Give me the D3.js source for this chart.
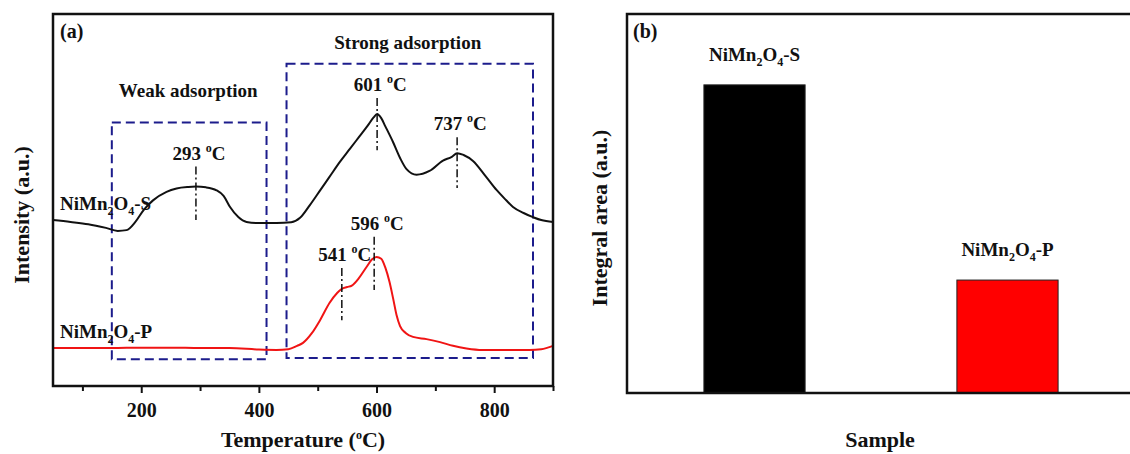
<!DOCTYPE html>
<html>
<head>
<meta charset="utf-8">
<script src="https://cdnjs.cloudflare.com/ajax/libs/d3/7.8.5/d3.min.js"></script>
<style>
	body { margin: 0; background: #fff; }
	text { font-family: "Liberation Serif", "Times New Roman", serif; font-weight: bold; fill: #111; }
</style>
</head>
<body>
<div id="chart"></div>
<script>
// panel (a): TPD curves, temperature (°C) vs intensity (a.u.)
const tempS = [50, 80, 110, 140, 160, 175, 190, 204, 220, 243, 260, 280, 293, 310, 328, 340, 351, 365, 379, 400, 430, 455, 470, 487, 505, 520, 538, 555, 570, 585, 595, 601, 608, 615, 628, 640, 651, 668, 690, 713, 728, 737, 748, 764, 785, 804, 820, 832, 850, 866, 880, 900];
const intS  = [44.6, 44.1, 43.5, 42.5, 41.7, 41.9, 44.1, 47.3, 49.9, 52.2, 53.1, 53.5, 53.6, 53.4, 52.6, 51.1, 48.1, 45.4, 44.1, 43.8, 43.8, 44.0, 45.2, 48.7, 52.8, 56.2, 60.3, 63.8, 66.9, 70.0, 72.2, 73.1, 72.0, 69.8, 65.6, 61.3, 58.3, 56.8, 57.8, 60.6, 61.6, 62.6, 62.1, 60.5, 56.5, 52.7, 50.0, 48.1, 46.5, 45.4, 44.6, 44.1];

const tempP = [50, 100, 150, 200, 250, 300, 350, 400, 430, 450, 465, 475, 490, 504, 520, 533, 541, 550, 558, 570, 583, 592, 600, 608, 615, 622, 628, 634, 640, 650, 662, 685, 708, 730, 753, 780, 820, 860, 880, 900];
const intP  = [10.2, 10.2, 10.2, 10.3, 10.3, 10.2, 10.2, 9.8, 9.7, 9.9, 10.8, 11.6, 14.2, 17.7, 22.3, 25.0, 26.1, 26.6, 27.0, 29.0, 32.0, 34.0, 34.7, 34.2, 31.8, 28.0, 23.7, 19.1, 16.1, 14.2, 13.2, 12.6, 11.8, 10.8, 10.1, 9.7, 9.7, 9.7, 9.9, 10.8];

const majorTicks = [200, 400, 600, 800];
const minorTicks = [100, 300, 500, 700, 900];

// peak markers: temperature, marker top, marker bottom (intensity units)
const peakTemps  = [293, 601, 737, 596, 541];
const peakTop    = [59.0, 77.4, 66.9, 40.1, 31.7];
const peakBottom = [44.6, 63.4, 53.2, 25.8, 17.7];

// dashed boxes [t0, t1, i0, i1]
const boxNames = ["Weak adsorption", "Strong adsorption"];
const boxTemps = [[150, 413], [447, 866]];
const boxInts  = [[7.2, 70.8], [7.5, 86.6]];

// panel (b): integral area
const samples = ["S", "P"];
const areas = [81.3, 29.8];
const barColors = ["#000000", "#ff0000"];

const width = 1130, height = 454;

let svg = d3.select("#chart").append("svg")
	.attr("width", width)
	.attr("height", height);

svg.append("rect").attr("width", width).attr("height", height).attr("fill", "#fff");

//helper for "NiMn2O4-X" with subscripts
function sampleLabel(sel, suffix) {
	sel.append("tspan").text("NiMn");
	sel.append("tspan").attr("dy", 5).style("font-size", "12px").text("2");
	sel.append("tspan").attr("dy", -5).text("O");
	sel.append("tspan").attr("dy", 5).style("font-size", "12px").text("4");
	sel.append("tspan").attr("dy", -5).text("-" + suffix);
}

//helper for "xxx °C"
function degLabel(sel, prefix) {
	sel.append("tspan").text(prefix);
	sel.append("tspan").attr("dy", -8).style("font-size", "12px").text("o");
	sel.append("tspan").attr("dy", 8).text("C");
}

/////////////////////// panel (a) ///////////////////////

let x = d3.scaleLinear().domain([50, 900]).range([53, 553]);
let y = d3.scaleLinear().domain([0, 100]).range([386, 14]);

let ga = svg.append("g").attr("class", "panelA");

//bottom ticks
ga.append("g")
	.attr("transform", "translate(0," + y(0) + ")")
	.call(d3.axisBottom(x).tickValues(majorTicks).tickSize(7).tickPadding(10).tickFormat(d3.format("d")))
	.call(g => g.select(".domain").remove())
	.call(g => g.selectAll("line").attr("stroke", "#111").attr("stroke-width", 2))
	.call(g => g.selectAll("text").style("font-size", "20px").attr("fill", "#111")
		.style("font-family", "'Liberation Serif', serif").style("font-weight", "bold"));

ga.append("g")
	.attr("transform", "translate(0," + y(0) + ")")
	.call(d3.axisBottom(x).tickValues(minorTicks).tickSize(5).tickFormat(""))
	.call(g => g.select(".domain").remove())
	.call(g => g.selectAll("line").attr("stroke", "#111").attr("stroke-width", 2));

//dashed boxes
ga.selectAll(".box")
	.data(boxNames)
	.enter().append("rect")
	.attr("class", "box")
	.attr("x", (d, i) => x(boxTemps[i][0]))
	.attr("y", (d, i) => y(boxInts[i][1]))
	.attr("width", (d, i) => x(boxTemps[i][1]) - x(boxTemps[i][0]))
	.attr("height", (d, i) => y(boxInts[i][0]) - y(boxInts[i][1]))
	.attr("fill", "none")
	.attr("stroke", "#1c1c8c")
	.attr("stroke-width", 2)
	.attr("stroke-dasharray", "9,5");

ga.selectAll(".boxLabel")
	.data(boxNames)
	.enter().append("text")
	.attr("class", "boxLabel")
	.attr("x", (d, i) => (x(boxTemps[i][0]) + x(boxTemps[i][1])) / 2 + (i === 0 ? -1 : -2))
	.attr("y", (d, i) => y(boxInts[i][1]) - 26 + (i === 0 ? 0 : 11))
	.attr("text-anchor", "middle")
	.style("font-size", "19px")
	.text(d => d);

//curves
let line = d3.line()
	.x(d => x(d[0]))
	.y(d => y(d[1]))
	.curve(d3.curveMonotoneX);

ga.append("path")
	.attr("d", line(d3.zip(tempS, intS)))
	.attr("fill", "none")
	.attr("stroke", "#111")
	.attr("stroke-width", 2);

ga.append("path")
	.attr("d", line(d3.zip(tempP, intP)))
	.attr("fill", "none")
	.attr("stroke", "#f01414")
	.attr("stroke-width", 2);

//peak markers
ga.selectAll(".peak")
	.data(peakTemps)
	.enter().append("line")
	.attr("class", "peak")
	.attr("x1", d => x(d)).attr("x2", d => x(d))
	.attr("y1", (d, i) => y(peakTop[i]))
	.attr("y2", (d, i) => y(peakBottom[i]))
	.attr("stroke", "#111")
	.attr("stroke-width", 1.5)
	.attr("stroke-dasharray", "8,3,2,3");

ga.selectAll(".peakLabel")
	.data(peakTemps)
	.enter().append("text")
	.attr("class", "peakLabel")
	.attr("x", d => x(d) + 3)
	.attr("y", (d, i) => y(peakTop[i]) - 7)
	.attr("text-anchor", "middle")
	.style("font-size", "19px")
	.each(function(d) { degLabel(d3.select(this), d + " "); });

//curve labels
ga.append("text").attr("x", 60).attr("y", 210).style("font-size", "19px")
	.call(sampleLabel, "S");
ga.append("text").attr("x", 60).attr("y", 338).style("font-size", "19px")
	.call(sampleLabel, "P");

//frame
ga.append("rect")
	.attr("x", x(50)).attr("y", y(100))
	.attr("width", x(900) - x(50)).attr("height", y(0) - y(100))
	.attr("fill", "none")
	.attr("stroke", "#111")
	.attr("stroke-width", 2.5);

ga.append("text").attr("x", 60).attr("y", 38).style("font-size", "20px").text("(a)");

ga.append("text")
	.attr("x", (x(50) + x(900)) / 2)
	.attr("y", 447)
	.attr("text-anchor", "middle")
	.style("font-size", "22px")
	.call(t => degLabel(t, "Temperature ("))
	.append("tspan").text(")");

ga.append("text")
	.attr("transform", "translate(29," + 215 + ") rotate(-90)")
	.attr("text-anchor", "middle")
	.style("font-size", "22px")
	.text("Intensity (a.u.)");

/////////////////////// panel (b) ///////////////////////

let xb = d3.scaleBand().domain(samples).range([627, 1135]).paddingInner(0.6).paddingOuter(0.304);
let yb = d3.scaleLinear().domain([0, 100]).range([393, 14]);

let gb = svg.append("g").attr("class", "panelB");

gb.selectAll(".bar")
	.data(samples)
	.enter().append("rect")
	.attr("class", "bar")
	.attr("x", d => xb(d))
	.attr("y", (d, i) => yb(areas[i]))
	.attr("width", xb.bandwidth())
	.attr("height", (d, i) => yb(0) - yb(areas[i]))
	.attr("fill", (d, i) => barColors[i])
	.attr("stroke", "#222")
	.attr("stroke-width", 1);

gb.selectAll(".barLabel")
	.data(samples)
	.enter().append("text")
	.attr("class", "barLabel")
	.attr("x", d => xb(d) + xb.bandwidth() / 2)
	.attr("y", (d, i) => yb(areas[i]) - 24)
	.attr("text-anchor", "middle")
	.style("font-size", "19px")
	.each(function(d) { sampleLabel(d3.select(this), d); });

gb.append("rect")
	.attr("x", 627).attr("y", yb(100))
	.attr("width", 1135 - 627).attr("height", yb(0) - yb(100))
	.attr("fill", "none")
	.attr("stroke", "#111")
	.attr("stroke-width", 2.5);

gb.append("text").attr("x", 633).attr("y", 38).style("font-size", "20px").text("(b)");

gb.append("text")
	.attr("x", 880)
	.attr("y", 447)
	.attr("text-anchor", "middle")
	.style("font-size", "22px")
	.text("Sample");

gb.append("text")
	.attr("transform", "translate(607," + 218 + ") rotate(-90)")
	.attr("text-anchor", "middle")
	.style("font-size", "22px")
	.text("Integral area (a.u.)");
</script>
</body>
</html>
